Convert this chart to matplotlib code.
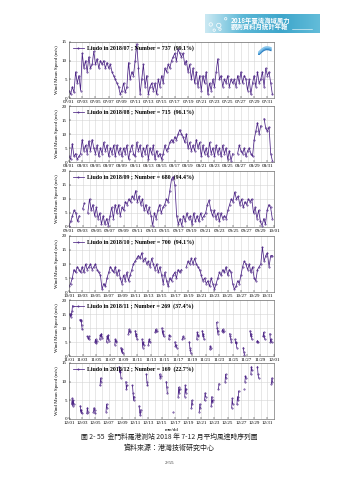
import numpy as np
import pandas as pd
import matplotlib
matplotlib.use("Agg")
import matplotlib.pyplot as plt

# 6-hourly wind speed (m/s), 4 values per day
jul = [2, 1, 3, 1.5,  7, 4, 6, 2,  12, 8, 10, 7,  11, 8, 9, 12.5,
       9, 10.5, 8, 10,  9, 10, 8, 9.5,  8, 9, 7, 6,  5, 4, 3, 1,
       2, 4, 1.5, 3,  9.5, 5, 7, 6,  10, 14.5, 8, 1,  5, 9, 3, 6,
       1, 3, 4, 2,  4, 1, 5, 3,  6, 4, 8, 7,  9, 8, 10, 11,
       12, 10, 13, 12,  11, 12, 9, 10,  7, 9, 5, 8,  4, 7, 3, 6,
       2, 6, 4, 7,  1, 4, 2, 5,  3, 7, 10.5, 5,  6, 3, 5, 4,
       6, 3, 5, 4,  5, 3, 6, 4,  7, 4, 6, 5,  2, 5, 1, 4,
       6, 3, 7, 4,  5, 7, 3, 8,  6, 7, 4, 1]
aug = [2, 1, 6.5, 2,  3, 1, 2, 3,  8, 4, 6, 3,  7.5, 4, 8, 5,
       3, 6, 2, 5,  3, 7, 4, 6,  2, 5, 3, 6,  2, 6, 3, 5,
       2, 5, 3, 6,  1, 4, 6, 3,  2, 7, 4, 6,  2, 5, 3, 6,
       1, 5, 3, 6,  1, 4, 2, 3,  1, 3, 6, 4,  5, 7, 8, 7,
       9, 8, 10, 11.5,  10, 9, 7, 10,  5, 7, 4, 6,  4, 8, 5, 7,
       2, 6, 3, 5,  2, 7, 3, 5,  2, 6, 3, 5,  2, 6, 3, 5,
       1, 4, 0.5, 3,  np.nan, np.nan, 3, 6,  4, 3, 5, 2,  4, 5, 3, 2,
       8, 11, 14, 10,  13, np.nan, 15.5, 12,  11, 12.5, 3, 0.5]
sep = [0.5, 2, 4, 6,  5, 2, 4, np.nan,  6.5, 8.5, np.nan, 5,  10, 6, 8, 4,
       7, 3, 5, 1,  4, 1, 3, 0.5,  4, 7, 3, 8,  5, 8, 4, 7,
       6, 9, 8, 10,  9, 11, 10, 13,  9, 11, 8, 10,  6, 8, 5, 7,
       4, 0.5, 5, 3,  6, 8, 5, 7,  8, 10, 9, 13,  17, 18, 15, 4,
       1, 3, 0.5, 4,  2, 5, 3, 4,  1, 5, 2, 4,  2, 5, 3, 4,
       5, 8, 9.5, 6,  4, 6, 3, 5,  2, 5, 3, 4,  3, 6, 8, 10,
       9, 12.5, 10, 11,  8, 10, 7, 9,  8, 10, 9, 10,  5, 7, 3, 6,
       2, 0.5, 3, 1,  6, 8, 7, 3]
oct_ = [2, 3, 5, 8,  7, 9, 8, 7,  9, 7, 10, 8,  9, 10, 8, 9,
        10, 8, 7, 6,  1, 3, 2, 5,  7, 9, 8, 7,  9, 6, 8, 5,
        3, 6, 4, 7,  4, 6, 8, 10,  11, 12, 13, 12,  14, 11, 12, 10,
        11, 9, 12, 10,  8, 10, 7, 9,  6, 3, 7, 4,  2, 5, 4, 6,
        7, 5, 8, 7,  8, np.nan, np.nan, 9,  11, 10, 12, 10,  12, 10, 9, 8,
        6, 4, 5, 3,  4, 2, 5, 3,  1, 3, 5, 7,  6, 8, 7, 9,
        6, 8, 7, 3,  1, 2, 4, 3,  6, 9, 11, 10,  8, 10, 7, 9,
        5, 4, 8, 9,  10, 16, 11, 13,  14, 9, 13, 13]

# sparse months: (start day, 2-hourly values)
nov_segs = [(0.1, [15, 14.5, 14, 15, 16, 18]), (1.6, [13, 12.5, 13, 11, 9.5]),
            (2.7, [7, 6.5, 6, 7]), (3.8, [5, 6, 4.5, 5.5]), (4.5, [6, 7.5, 7, 8, 6.5]),
            (5.5, [5, 7, 6, 7.5, 5.5]), (6.7, [4, 6, 5, 5.5]), (7.6, [3, 1.5, 2.5, 1]),
            (8.7, [8, 9.5, 8.5, 9]), (9.7, [9, 7, 8, 6]), (10.7, [6, 3, 5, 4]),
            (11.6, [4, 5.5, 6, 5]), (12.6, [8.5, 9.5, 9, 9]), (13.6, [10, 8, 9, 7]),
            (14.6, [6, 7.5, 7]), (15.5, [5, 3.5, 4, 3]), (16.6, [6, 7, 6.5]),
            (17.6, [5, 3, 2, 1]), (18.7, [6, 8.5, 7.5, 7]), (19.5, [9, 7, 8, 6]),
            (20.6, [2.5, 3.5, 3]), (21.6, [12, 10, 8, 9]), (22.4, [9, 9.5, 8.5, 9]),
            (23.5, [8, 7, 6, 5]), (24.3, [6, 4.5, 5, 3]), (25.5, [3, 1.5, 0.5]),
            (26.5, [9, 7, 8, 6]), (27.5, [5, 5.5, 5]), (28.4, [7, 8.5, 7, 6]),
            (29.4, [8, 5, 6, 5])]
dec_segs = [(0.4, [4, 5.5, 3.5, 5, 4]), (1.7, [3.5, 2, 2.5, 1.5]), (2.7, [1.5, 3, 2]),
            (3.7, [2, 3, 2.5, 1.5]), (4.7, [9, 11, 10]), (5.6, [2, 4, 3]),
            (7.6, [14, 12.5, 13, 11]), (8.6, [10, 8, 9]), (9.6, [9, 7, 5, 6]),
            (10.6, [3.5, 2, 1, 2.5]), (11.7, [12, 10, 9]), (13.7, [12, 11, 11.5]),
            (14.7, [10, 8.5, 7]), (15.7, [2]), (16.5, [6, 8.5, 7, 8]),
            (17.5, [6, 9, 7, 8]), (18.5, [3, 5, 4]), (19.7, [2, 4, 3]),
            (20.5, [5, 7, 6]), (21.5, [3.5, 6, 4.5, 5]), (22.6, [8, 9.5]),
            (23.6, [10, 12, 11]), (24.6, [3, 5.5, 4]), (25.4, [4, 6, 5, 7.5]),
            (26.4, [8]), (26.6, [10, 11.5, 11]), (27.5, [12, 14, 13]),
            (28.5, [14, 12, 11]), (30.6, [9.5, 11, 10])]

months = [7, 8, 9, 10, 11, 12]
ndays = [31, 31, 30, 31, 30, 31]
counts = [737, 715, 680, 700, 269, 169]
pcts = ["99.1%", "96.1%", "94.4%", "94.1%", "37.4%", "22.7%"]
ymax = [15, 20, 20, 20, 20, 15]
dense = [jul, aug, sep, oct_]
sparse = [nov_segs, dec_segs]

purple = "#4b2385"
plt.rcParams["font.family"] = ["Liberation Serif", "DejaVu Serif"]

fig = plt.figure(figsize=(3.39, 4.8), dpi=100)
fig.patch.set_facecolor("white")

tops = [42, 106, 171, 236, 300, 363]
H = 56
for i, m in enumerate(months):
    top = tops[i]
    ax = fig.add_axes([69 / 339, 1 - (top + H) / 480, 205 / 339, H / 480])
    nd = ndays[i]
    if i < 4:
        v = np.array(dense[i], dtype=float)
        t = np.arange(len(v)) / 4
        line, = ax.plot(t, v, color=purple, lw=0.55, marker=".", ms=0.8)
    else:
        for d0, vals in sparse[i - 4]:
            tt = d0 + np.arange(len(vals)) / 12
            line, = ax.plot(tt, vals, color=purple, lw=0.55, marker=".", ms=0.8)
    ax.set_xlim(0, nd)
    ax.set_ylim(0, ymax[i])
    ax.set_yticks(np.arange(0, ymax[i] + 1, 5))
    maj = np.arange(0, nd + 1, 2)
    ax.set_xticks(maj)
    start = pd.Timestamp(2018, m, 1)
    ax.set_xticklabels([(start + pd.Timedelta(days=int(d))).strftime("%m/%d") for d in maj])
    ax.set_xticks(np.arange(0, nd + 1, 1), minor=True)
    ax.grid(which="both", axis="x", color="#d4d4d4", lw=0.4)
    ax.grid(which="major", axis="y", color="#d4d4d4", lw=0.4)
    ax.set_axisbelow(True)
    ax.tick_params(which="both", direction="in", length=1.2, width=0.3,
                   labelsize=3.6, pad=1.5, top=False, right=False)
    ax.tick_params(which="minor", length=0)
    for s in ax.spines.values():
        s.set_linewidth(0.4)
        s.set_color("#555555")
    ax.set_ylabel("Wind Mean Speed (m/s)", fontsize=3.6, labelpad=2)
    ax.legend([line], ["Liudo in 2018/%02d ; Number = %d  (%s)" % (m, counts[i], pcts[i])],
              loc="upper left", frameon=False, handlelength=2.0,
              borderaxespad=0.2, handletextpad=0.5, prop={"weight": "bold", "size": 4.2})
    if i == 0:
        # small wave logo in top right corner
        lx = np.linspace(0, 1, 20)
        logo = ax.inset_axes([0.92, 0.76, 0.07, 0.2])
        for k, c in enumerate(["#2f7fc1", "#55a6dc", "#86c4ea"]):
            logo.plot(lx, 0.35 * np.sin(lx * 3.0) + 0.15 * k + lx * 0.5, color=c, lw=1.2)
        logo.set_xlim(-0.1, 1.1)
        logo.set_ylim(-0.1, 1.3)
        logo.axis("off")
    if i == 5:
        ax.set_xlabel("mm/dd", fontsize=3.6, labelpad=2)

# header banner
bax = fig.add_axes([205 / 339, 1 - 33 / 480, 115 / 339, 19 / 480])
grad = np.linspace(0, 1, 200)
cmap = matplotlib.colors.LinearSegmentedColormap.from_list(
    "b", ["#cbe9f3", "#5ab7d6", "#3ea6cb", "#62bcd9"])
bax.imshow(grad[None, :], aspect="auto", cmap=cmap, extent=[0, 1, 0, 1])
bax.scatter([0.05, 0.12, 0.18, 0.13, 0.08], [0.45, 0.4, 0.75, 0.2, 0.15],
            s=[6, 10, 3, 3, 3], facecolors="none", edgecolors="white", linewidths=0.5)
bax.set_xlim(0, 1)
bax.set_ylim(0, 1)
bax.axis("off")
cjk = ["Noto Sans CJK TC", "DejaVu Sans"]
fig.text(231 / 339, 1 - 20.5 / 480, "2018年臺灣海域風力", family=cjk, fontsize=4.6,
         color="white", va="center", weight="bold")
fig.text(231 / 339, 1 - 27 / 480, "觀測資料月統計年報", family=cjk, fontsize=4.6,
         color="white", va="center", weight="bold")
fig.add_artist(plt.Line2D([292 / 339, 312 / 339], [1 - 28.5 / 480, 1 - 28.5 / 480],
                          color="white", lw=0.4))

fig.text(0.5, 1 - 437 / 480, "圖 2- 55  金門料羅港測站 2018 年 7-12 月平均風速時序列圖",
         family=cjk, fontsize=4.9, ha="center", va="center", color="#222222")
fig.text(0.5, 1 - 447.5 / 480, "資料來源：港灣技術研究中心", family=cjk, fontsize=5.0,
         ha="center", va="center", color="#222222")
fig.text(0.5, 1 - 462.5 / 480, "2-55", fontsize=3.8, ha="center", va="center", color="#333333")

fig.savefig("out.png", dpi=100)
